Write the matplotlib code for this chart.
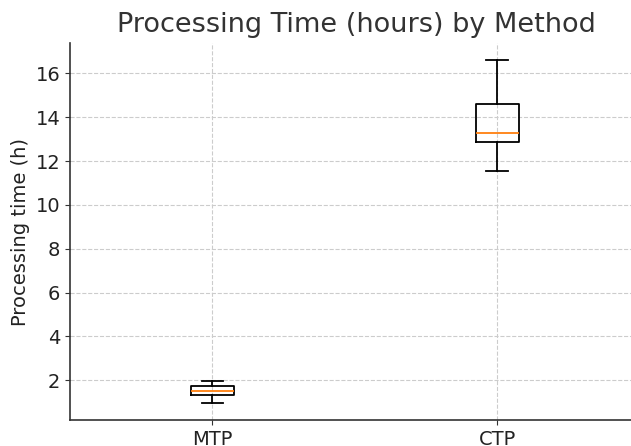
import matplotlib
matplotlib.use('Agg')
import matplotlib.pyplot as plt

methods = ['MTP', 'CTP']
whisker_low = [0.96, 11.53]
q1 = [1.33, 12.87]
median = [1.51, 13.28]
q3 = [1.73, 14.62]
whisker_high = [1.97, 16.59]

stats = []
for i, m in enumerate(methods):
    stats.append({'label': m, 'whislo': whisker_low[i], 'q1': q1[i], 'med': median[i],
                  'q3': q3[i], 'whishi': whisker_high[i], 'fliers': []})

plt.rcParams['font.family'] = 'DejaVu Sans'
fig = plt.figure(figsize=(6.31, 4.46), dpi=100)
ax = fig.add_axes([0.111, 0.058, 0.889, 0.845])

lw = 1.3
ax.bxp(stats, positions=[1, 2], widths=0.15,
       boxprops=dict(color='black', linewidth=lw),
       whiskerprops=dict(color='black', linewidth=lw),
       capprops=dict(color='black', linewidth=lw),
       medianprops=dict(color='#ff7f0e', linewidth=lw))

ax.set_xlim(0.5, 2.47)
ax.grid(True, linestyle='--', color='#cccccc', linewidth=0.8)
ax.set_axisbelow(True)
for s in ['top', 'right']:
    ax.spines[s].set_visible(False)
for s in ['left', 'bottom']:
    ax.spines[s].set_color('#333333')
    ax.spines[s].set_linewidth(1.2)
ax.tick_params(labelsize=14, colors='#333333', labelcolor='#222222')
ax.set_ylabel('Processing time (h)', fontsize=14, color='#222222')
ax.set_title('Processing Time (hours) by Method', fontsize=19.5, color='#333333',
             pad=8, x=0.511)

fig.savefig('out.png', dpi=100)
